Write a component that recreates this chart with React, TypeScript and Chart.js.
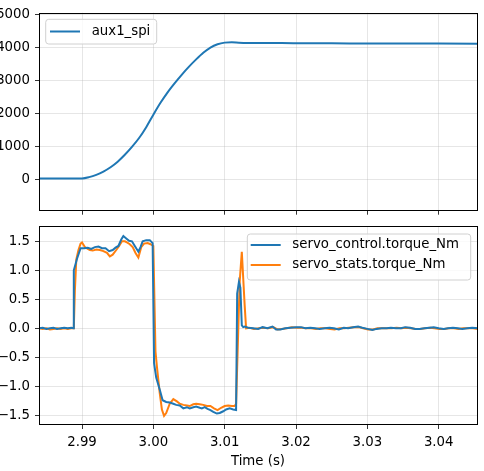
import React, { useEffect, useRef } from 'react';
import { Chart, registerables } from 'chart.js';
Chart.register(...registerables);

const FONT = 'DejaVu Sans';
const BLUE = '#1f77b4';
const ORANGE = '#ff7f0e';

const xTicks = [2.99, 3.0, 3.01, 3.02, 3.03, 3.04];
const topYTicks = [0, 1000, 2000, 3000, 4000, 5000];
const botYTicks = [-1.5, -1.0, -0.5, 0, 0.5, 1.0, 1.5];

const aux1Times = [2.984, 2.986, 2.988, 2.989, 2.990, 2.991, 2.992, 2.993, 2.994, 2.995, 2.996, 2.997, 2.998, 2.999, 3.000, 3.001, 3.002, 3.003, 3.004, 3.005, 3.006, 3.007, 3.008, 3.009, 3.010, 3.011, 3.012, 3.014, 3.016, 3.020, 3.025, 3.030, 3.035, 3.040, 3.0455];
const aux1Values = [20, 22, 20, 18, 20, 60, 130, 230, 360, 530, 740, 980, 1250, 1580, 1960, 2320, 2640, 2920, 3180, 3420, 3640, 3840, 4000, 4100, 4150, 4160, 4150, 4140, 4140, 4130, 4130, 4120, 4125, 4120, 4115];

const ctrlTimes = [2.9840, 2.9845, 2.9850, 2.9855, 2.9860, 2.9865, 2.9870, 2.9875, 2.9880, 2.9885, 2.98880, 2.98885, 2.9893, 2.9898, 2.9903, 2.9908, 2.9913, 2.9918, 2.9923, 2.9928, 2.9933, 2.9938, 2.9943, 2.9947, 2.9951, 2.9955, 2.9958, 2.9962, 2.9966, 2.9970, 2.9974, 2.9979, 2.9982, 2.9985, 2.9990, 2.9995, 2.9999, 3.0001, 3.0004, 3.0009, 3.0013, 3.0018, 3.0023, 3.0028, 3.0032, 3.0037, 3.0042, 3.0047, 3.0051, 3.0056, 3.0060, 3.0065, 3.0068, 3.0072, 3.0076, 3.0080, 3.0084, 3.0089, 3.0093, 3.0098, 3.0102, 3.0107, 3.0112, 3.0116, 3.01175, 3.0120, 3.0122, 3.0124, 3.0126, 3.0128, 3.0133, 3.0140, 3.0147, 3.0153, 3.0160, 3.0167, 3.0172, 3.0178, 3.0185, 3.0192, 3.0200, 3.0207, 3.0213, 3.0220, 3.0227, 3.0233, 3.0240, 3.0247, 3.0253, 3.0260, 3.0267, 3.0273, 3.0280, 3.0287, 3.0293, 3.0300, 3.0307, 3.0313, 3.0320, 3.0327, 3.0333, 3.0340, 3.0347, 3.0353, 3.0360, 3.0367, 3.0373, 3.0380, 3.0387, 3.0393, 3.0400, 3.0407, 3.0413, 3.0420, 3.0427, 3.0433, 3.0440, 3.0447, 3.0455];
const ctrlValues = [0.00, 0.01, -0.01, 0.00, 0.01, -0.01, 0.00, 0.01, 0.00, 0.01, 0.00, 1.00, 1.20, 1.38, 1.38, 1.39, 1.37, 1.40, 1.41, 1.38, 1.38, 1.33, 1.35, 1.39, 1.42, 1.53, 1.59, 1.55, 1.51, 1.50, 1.42, 1.32, 1.40, 1.50, 1.52, 1.52, 1.47, -0.60, -0.85, -1.06, -1.24, -1.27, -1.28, -1.30, -1.32, -1.33, -1.38, -1.36, -1.38, -1.36, -1.35, -1.37, -1.38, -1.36, -1.39, -1.41, -1.44, -1.47, -1.46, -1.43, -1.40, -1.38, -1.40, -1.41, 0.60, 0.80, 0.70, 0.05, 0.02, 0.03, 0.01, 0.00, -0.01, 0.02, 0.00, 0.03, -0.02, -0.02, 0.00, 0.01, 0.02, 0.02, 0.00, 0.01, 0.00, -0.01, 0.00, 0.01, 0.00, -0.02, 0.01, 0.00, 0.02, 0.03, 0.01, -0.01, -0.03, -0.01, 0.00, 0.00, 0.01, 0.00, 0.00, 0.02, 0.01, -0.01, -0.01, 0.00, 0.01, 0.02, 0.00, -0.01, 0.00, 0.01, 0.00, -0.01, 0.00, 0.01, 0.00];

const statsTimes = [2.9840, 2.9845, 2.9850, 2.9855, 2.9860, 2.9865, 2.9870, 2.9875, 2.9880, 2.9885, 2.98885, 2.9890, 2.9892, 2.9895, 2.9898, 2.9900, 2.9904, 2.9908, 2.9911, 2.9915, 2.9920, 2.9925, 2.9930, 2.9935, 2.9939, 2.9943, 2.9948, 2.9952, 2.9956, 2.9960, 2.9963, 2.9967, 2.9971, 2.9975, 2.9979, 2.9983, 2.9987, 2.9992, 2.9996, 3.0000, 3.0003, 3.0005, 3.0009, 3.0012, 3.0015, 3.0018, 3.0023, 3.0028, 3.0033, 3.0037, 3.0042, 3.0047, 3.0051, 3.0056, 3.0060, 3.0065, 3.0070, 3.0075, 3.0080, 3.0085, 3.0090, 3.0095, 3.0100, 3.0105, 3.0110, 3.0114, 3.0116, 3.0121, 3.0124, 3.0128, 3.0130, 3.0135, 3.0141, 3.0148, 3.0154, 3.0161, 3.0168, 3.0174, 3.0180, 3.0187, 3.0194, 3.0201, 3.0208, 3.0214, 3.0221, 3.0228, 3.0234, 3.0241, 3.0248, 3.0254, 3.0261, 3.0268, 3.0274, 3.0281, 3.0288, 3.0294, 3.0301, 3.0308, 3.0314, 3.0321, 3.0328, 3.0334, 3.0341, 3.0348, 3.0354, 3.0361, 3.0368, 3.0374, 3.0381, 3.0388, 3.0394, 3.0401, 3.0408, 3.0414, 3.0421, 3.0428, 3.0434, 3.0441, 3.0448, 3.0455];
const statsValues = [0.00, -0.01, 0.00, -0.02, -0.01, 0.00, -0.01, 0.00, -0.01, 0.00, 0.00, 0.65, 1.19, 1.35, 1.46, 1.48, 1.40, 1.37, 1.35, 1.34, 1.36, 1.35, 1.33, 1.30, 1.24, 1.27, 1.35, 1.42, 1.50, 1.50, 1.48, 1.45, 1.40, 1.30, 1.22, 1.40, 1.46, 1.47, 1.45, 1.42, -0.40, -0.66, -1.12, -1.40, -1.51, -1.46, -1.30, -1.22, -1.26, -1.30, -1.32, -1.33, -1.34, -1.31, -1.30, -1.31, -1.32, -1.34, -1.34, -1.38, -1.41, -1.37, -1.34, -1.33, -1.34, -1.34, -1.30, 0.80, 1.32, 0.40, 0.00, 0.01, -0.01, 0.00, 0.01, 0.00, 0.02, -0.02, -0.01, 0.00, 0.02, 0.01, 0.01, 0.00, 0.00, -0.01, 0.00, 0.00, -0.01, -0.02, 0.00, 0.00, 0.01, 0.02, 0.02, 0.00, -0.02, -0.02, 0.00, 0.00, 0.00, 0.00, 0.01, 0.00, 0.01, 0.00, -0.01, -0.01, 0.00, 0.01, 0.00, -0.01, -0.01, 0.00, 0.00, -0.01, 0.00, 0.00, 0.00, -0.01];

const X_MIN = 2.98397;
const X_MAX = 3.04551;

type LegendItem = { label: string; color: string };
type LegendSpec = { x: number; y: number; w: number; h: number; lineX1: number; lineX2: number; textX: number; rows: number[]; items: LegendItem[] };

function roundRect(ctx: CanvasRenderingContext2D, x: number, y: number, w: number, h: number, r: number) {
  ctx.beginPath();
  ctx.moveTo(x + r, y);
  ctx.lineTo(x + w - r, y);
  ctx.arcTo(x + w, y, x + w, y + r, r);
  ctx.lineTo(x + w, y + h - r);
  ctx.arcTo(x + w, y + h, x + w - r, y + h, r);
  ctx.lineTo(x + r, y + h);
  ctx.arcTo(x, y + h, x, y + h - r, r);
  ctx.lineTo(x, y + r);
  ctx.arcTo(x, y, x + r, y, r);
  ctx.closePath();
}

function makeDecorPlugin(legend: LegendSpec, title?: { text: string; x: number; y: number }) {
  return {
    id: 'decor',
    afterDatasetsDraw(chart: any) {
      const ctx: CanvasRenderingContext2D = chart.ctx;
      const a = chart.chartArea;
      ctx.save();
      ctx.strokeStyle = '#000';
      ctx.lineWidth = 1;
      ctx.strokeRect(Math.round(a.left) + 0.5, Math.round(a.top) + 0.5, Math.round(a.right - a.left) - 1, Math.round(a.bottom - a.top) - 1);
      roundRect(ctx, legend.x, legend.y, legend.w, legend.h, 3);
      ctx.fillStyle = 'rgba(255,255,255,0.8)';
      ctx.fill();
      ctx.strokeStyle = '#d0d0d0';
      ctx.lineWidth = 1;
      ctx.stroke();
      ctx.font = `13.3px "${FONT}"`;
      ctx.textBaseline = 'middle';
      ctx.textAlign = 'left';
      legend.items.forEach((it, i) => {
        const y = legend.rows[i];
        ctx.strokeStyle = it.color;
        ctx.lineWidth = 2;
        ctx.beginPath();
        ctx.moveTo(legend.lineX1, y);
        ctx.lineTo(legend.lineX2, y);
        ctx.stroke();
        ctx.fillStyle = '#000';
        ctx.fillText(it.label, legend.textX, y);
      });
      if (title) {
        ctx.textAlign = 'center';
        ctx.fillStyle = '#000';
        ctx.fillText(title.text, title.x, title.y);
      }
      ctx.restore();
    },
  };
}

function axisX(showLabels: boolean, heightPx: number) {
  return {
    type: 'linear',
    min: X_MIN,
    max: X_MAX,
    afterBuildTicks: (axis: any) => {
      axis.ticks = xTicks.map((v) => ({ value: v }));
    },
    afterFit: (scale: any) => {
      scale.height = heightPx;
    },
    border: { display: false },
    grid: {
      color: 'rgba(176,176,176,0.4)',
      lineWidth: 0.8,
      drawTicks: true,
      tickLength: 4,
      tickColor: '#000',
      tickWidth: 0.8,
    },
    ticks: {
      autoSkip: false,
      maxRotation: 0,
      padding: 6,
      color: '#000',
      font: { family: FONT, size: 13.3 },
      callback: (v: any) => (showLabels ? Number(v).toFixed(2) : ''),
    },
  };
}

function axisY(min: number, max: number, ticks: number[], fmt: (v: number) => string) {
  return {
    type: 'linear',
    min,
    max,
    afterBuildTicks: (axis: any) => {
      axis.ticks = ticks.map((v) => ({ value: v }));
    },
    afterFit: (scale: any) => {
      scale.width = 39;
    },
    border: { display: false },
    grid: {
      color: 'rgba(176,176,176,0.4)',
      lineWidth: 0.8,
      drawTicks: true,
      tickLength: 4,
      tickColor: '#000',
      tickWidth: 0.8,
    },
    ticks: {
      autoSkip: false,
      padding: 5,
      color: '#000',
      font: { family: FONT, size: 13.3, lineHeight: 0.4 },
      callback: (v: any) => fmt(Number(v)),
    },
  };
}

const fmtInt = (v: number) => String(Math.round(v));
const fmtDec = (v: number) => {
  const s = v.toFixed(1);
  return s.startsWith('-') ? '\u2212' + s.slice(1) : s;
};

function series(times: number[], values: number[]) {
  return times.map((t, i) => ({ x: t, y: values[i] }));
}

export default function App() {
  const topRef = useRef<HTMLCanvasElement>(null);
  const botRef = useRef<HTMLCanvasElement>(null);

  useEffect(() => {
    const top = new Chart(topRef.current as HTMLCanvasElement, {
      type: 'line',
      data: {
        datasets: [
          { label: 'aux1_spi', data: series(aux1Times, aux1Values), borderColor: BLUE, borderWidth: 2, pointRadius: 0, cubicInterpolationMode: 'monotone' } as any,
        ],
      },
      options: {
        responsive: false,
        animation: false,
        layout: { padding: { left: 0, right: 6, top: 12.7, bottom: 0 } },
        plugins: { legend: { display: false }, tooltip: { enabled: false } },
        scales: {
          x: axisX(false, 9.3) as any,
          y: axisY(-960, 5060, topYTicks, fmtInt) as any,
        },
      },
      plugins: [
        makeDecorPlugin({ x: 45.7, y: 19.3, w: 111, h: 24.7, lineX1: 50, lineX2: 80, textX: 91.7, rows: [31.5], items: [{ label: 'aux1_spi', color: BLUE }] }),
      ],
    });
    const bot = new Chart(botRef.current as HTMLCanvasElement, {
      type: 'line',
      data: {
        datasets: [
          { label: 'servo_control.torque_Nm', data: series(ctrlTimes, ctrlValues), borderColor: BLUE, borderWidth: 2, pointRadius: 0, tension: 0 } as any,
          { label: 'servo_stats.torque_Nm', data: series(statsTimes, statsValues), borderColor: ORANGE, borderWidth: 2, pointRadius: 0, tension: 0 } as any,
        ],
      },
      options: {
        responsive: false,
        animation: false,
        layout: { padding: { left: 0, right: 6, top: 11, bottom: 0 } },
        plugins: { legend: { display: false }, tooltip: { enabled: false } },
        scales: {
          x: axisX(true, 46) as any,
          y: axisY(-1.667, 1.764, botYTicks, fmtDec) as any,
        },
      },
      plugins: [
        makeDecorPlugin(
          { x: 247.3, y: 19, w: 223.4, h: 46, lineX1: 250.7, lineX2: 280.7, textX: 292.3, rows: [30, 50], items: [{ label: 'servo_control.torque_Nm', color: BLUE }, { label: 'servo_stats.torque_Nm', color: ORANGE }] },
          { text: 'Time (s)', x: 258, y: 247 }
        ),
      ],
    });
    return () => {
      top.destroy();
      bot.destroy();
    };
  }, []);

  return (
    <div style={{ position: 'fixed', left: 0, top: 0, width: 484, height: 471, background: '#fff' }}>
      <canvas ref={topRef} width={484} height={220} style={{ position: 'absolute', left: 0, top: 0 }} />
      <canvas ref={botRef} width={484} height={256} style={{ position: 'absolute', left: 0, top: 215 }} />
    </div>
  );
}
